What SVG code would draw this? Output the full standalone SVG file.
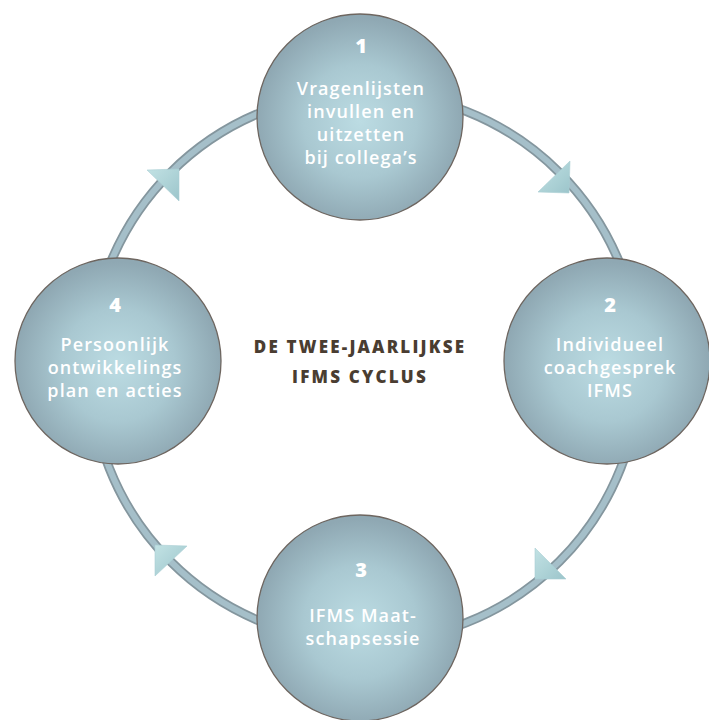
<svg xmlns="http://www.w3.org/2000/svg" width="709" height="720" viewBox="0 0 709 720">
<defs>
<radialGradient id="nodeFill" cx="50%" cy="52%" r="50%">
<stop offset="0" stop-color="#bcdce3"/>
<stop offset="0.55" stop-color="#a9c8d1"/>
<stop offset="1" stop-color="#8fa8b3"/>
</radialGradient>
<linearGradient id="arrowFill" x1="0" y1="0" x2="1" y2="1">
<stop offset="0" stop-color="#c2e2e4"/>
<stop offset="1" stop-color="#9cc5cb"/>
</linearGradient>
<style>
.ringOuter{fill:none;stroke:#84969e;stroke-width:9.5}
.ringInner{fill:none;stroke:#a5bfc9;stroke-width:6}
.arrow{fill:url(#arrowFill);stroke:#a9cfd4;stroke-width:0.6}
.node{fill:url(#nodeFill);stroke:#6e6660;stroke-width:1.3}
.num{font-family:"Open Sans","Liberation Sans",sans-serif;font-weight:800;font-size:20px;fill:#ffffff;text-anchor:middle}
.lbl{font-family:"Open Sans","Liberation Sans",sans-serif;font-weight:600;font-size:18px;fill:#ffffff;text-anchor:middle;letter-spacing:1.1px}
.title{font-family:"Open Sans","Liberation Sans",sans-serif;font-weight:800;font-size:17px;fill:#4a3d31;text-anchor:middle;letter-spacing:2.2px}
</style>
</defs>
<rect width="709" height="720" fill="#ffffff"/>
<g id="connectors">
<path class="ringOuter" d="M365,92 A275,275 0 0 1 640,367"/>
<path class="ringOuter" d="M640,367 A275,275 0 0 1 365,642"/>
<path class="ringOuter" d="M365,642 A275,275 0 0 1 90,367"/>
<path class="ringOuter" d="M90,367 A275,275 0 0 1 365,92"/>
<path class="ringInner" d="M365,92 A275,275 0 0 1 640,367"/>
<path class="ringInner" d="M640,367 A275,275 0 0 1 365,642"/>
<path class="ringInner" d="M365,642 A275,275 0 0 1 90,367"/>
<path class="ringInner" d="M90,367 A275,275 0 0 1 365,92"/>
<polygon class="arrow" points="570,161 538,192 569,193"/>
<polygon class="arrow" points="535,548 566,579 535,579"/>
<polygon class="arrow" points="155,545 187,546 155,576"/>
<polygon class="arrow" points="147,170 179,169 179,201"/>
</g>
<g id="node1">
<circle class="node" cx="360" cy="117" r="103"/>
<text class="num" x="361" y="53">1</text>
<text class="lbl" x="361" y="95">Vragenlijsten</text>
<text class="lbl" x="361" y="118">invullen en</text>
<text class="lbl" x="361" y="141">uitzetten</text>
<text class="lbl" x="361" y="164">bij collega’s</text>
</g>
<g id="node2">
<circle class="node" cx="607" cy="361" r="103"/>
<text class="num" x="610" y="312">2</text>
<text class="lbl" x="610" y="351">Individueel</text>
<text class="lbl" x="610" y="374">coachgesprek</text>
<text class="lbl" x="610" y="397">IFMS</text>
</g>
<g id="node3">
<circle class="node" cx="360" cy="618" r="103"/>
<text class="num" x="361" y="577">3</text>
<text class="lbl" x="363" y="622">IFMS Maat-</text>
<text class="lbl" x="363" y="645">schapsessie</text>
</g>
<g id="node4">
<circle class="node" cx="118" cy="361" r="103"/>
<text class="num" x="115" y="312">4</text>
<text class="lbl" x="115" y="351">Persoonlijk</text>
<text class="lbl" x="115" y="374">ontwikkelings</text>
<text class="lbl" x="115" y="397">plan en acties</text>
</g>
<g id="title">
<text class="title" x="360" y="353">DE TWEE-JAARLIJKSE</text>
<text class="title" x="360" y="383">IFMS CYCLUS</text>
</g>
</svg>
